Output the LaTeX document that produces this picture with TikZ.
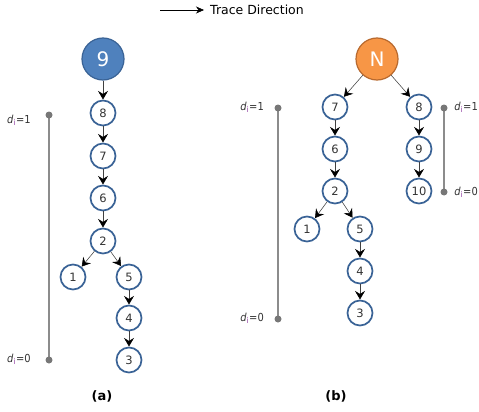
\documentclass[tikz,border=0pt]{standalone}
\usepackage{fontspec}
\setmainfont{DejaVu Sans}
\newfontfamily\condf{DejaVu Sans Condensed}
\usetikzlibrary{arrows.meta}
\definecolor{nodeblue}{HTML}{3A6396}
\definecolor{bigblue}{HTML}{4F81BD}
\definecolor{bigblueb}{HTML}{3A6396}
\definecolor{orangef}{HTML}{F79646}
\definecolor{orangeb}{HTML}{B8692E}
\definecolor{linegray}{HTML}{8C8C8C}
\definecolor{subviolet}{HTML}{8E3A9E}
\definecolor{txt}{HTML}{333333}
\tikzset{
  smallnode/.style={circle, draw=nodeblue, line width=1.7pt, fill=white, minimum size=25pt, inner sep=0pt, font=\fontsize{11.5}{12}\selectfont, text=txt},
  bigb/.style={circle, draw=bigblueb, line width=1.2pt, fill=bigblue, minimum size=42pt, inner sep=0pt, font=\fontsize{20}{22}\selectfont, text=white},
  bigo/.style={circle, draw=orangeb, line width=1.2pt, fill=orangef, minimum size=42pt, inner sep=0pt, font=\fontsize{20}{22}\selectfont, text=white},
  conn/.style={draw=black!75, line width=0.55pt, -{Stealth[length=8.5pt,width=10pt,inset=3pt,black]}, shorten >=0.2pt},
  dbar/.style={draw=linegray, line width=2.8pt},
  enddot/.style={circle, fill=linegray!85!black, inner sep=0pt, minimum size=7pt},
  dlab/.style={font=\condf\fontsize{11}{12}\selectfont, text=txt, inner sep=0pt},
  captxt/.style={font=\bfseries\fontsize{13}{14}\selectfont, text=black}
}
\newcommand{\dlabel}[1]{\textit{d}\textsubscript{\textcolor{subviolet}{\fontsize{8}{8}\selectfont i}}=#1}
\begin{document}
\begin{tikzpicture}[x=1pt,y=-1pt]
\useasboundingbox (0,0) rectangle (479,412);
% legend
\coordinate (la) at (160,10);
\coordinate (lb) at (204,10);
\draw[black, line width=0.6pt, -{Stealth[length=8pt,width=7pt,inset=2.5pt]}] (la) -- (lb);
\node[anchor=west, font=\fontsize{12.5}{14}\selectfont, text=black, inner sep=0pt] (legend) at (210,10) {Trace Direction};

% (a)
\node[bigb] (a9) at (103,59) {9};
\node[smallnode] (a8) at (103,113) {8};
\node[smallnode] (a7) at (103,156) {7};
\node[smallnode] (a6) at (103,198) {6};
\node[smallnode] (a2) at (103,241) {2};
\node[smallnode] (a1) at (73,277) {1};
\node[smallnode] (a5) at (129,277) {5};
\node[smallnode] (a4) at (129,318) {4};
\node[smallnode] (a3) at (129,360) {3};
\draw[conn] (a9) -- (a8);
\draw[conn] (a8) -- (a7);
\draw[conn] (a7) -- (a6);
\draw[conn] (a6) -- (a2);
\draw[conn] (a2) -- (a1);
\draw[conn] (a2) -- (a5);
\draw[conn] (a5) -- (a4);
\draw[conn] (a4) -- (a3);
\coordinate (at) at (49,115);
\coordinate (ab) at (49,360);
\draw[dbar] (at) -- (ab);
\node[enddot] (atd) at (at) {};
\node[enddot] (abd) at (ab) {};
\node[dlab, anchor=west] (al1) at (7,120) {\dlabel{1}};
\node[dlab, anchor=west] (al0) at (7,359) {\dlabel{0}};
\node[captxt] (capa) at (102,396) {(a)};

% (b)
\node[bigo] (bN) at (377,59) {N};
\node[smallnode] (b7) at (335,107) {7};
\node[smallnode] (b8) at (419,107) {8};
\node[smallnode] (b6) at (335,149) {6};
\node[smallnode] (b9) at (419,149) {9};
\node[smallnode] (b2) at (335,191) {2};
\node[smallnode] (b10) at (419,191) {10};
\node[smallnode] (b1) at (307,229) {1};
\node[smallnode] (b5) at (360,229) {5};
\node[smallnode] (b4) at (360,271) {4};
\node[smallnode] (b3) at (360,313) {3};
\draw[conn] (bN) -- (b7);
\draw[conn] (bN) -- (b8);
\draw[conn] (b7) -- (b6);
\draw[conn] (b6) -- (b2);
\draw[conn] (b8) -- (b9);
\draw[conn] (b9) -- (b10);
\draw[conn] (b2) -- (b1);
\draw[conn] (b2) -- (b5);
\draw[conn] (b5) -- (b4);
\draw[conn] (b4) -- (b3);
\coordinate (bt) at (278,108);
\coordinate (bb) at (278,319);
\draw[dbar] (bt) -- (bb);
\node[enddot] (btd) at (bt) {};
\node[enddot] (bbd) at (bb) {};
\node[dlab, anchor=east] (bl1) at (264,107) {\dlabel{1}};
\node[dlab, anchor=east] (bl0) at (264,318) {\dlabel{0}};
\coordinate (ct) at (444,108);
\coordinate (cb) at (444,192);
\draw[dbar] (ct) -- (cb);
\node[enddot] (ctd) at (ct) {};
\node[enddot] (cbd) at (cb) {};
\node[dlab, anchor=east] (cl1) at (478,107) {\dlabel{1}};
\node[dlab, anchor=east] (cl0) at (478,192) {\dlabel{0}};
\node[captxt] (capb) at (336,396) {(b)};
\end{tikzpicture}
\end{document}
